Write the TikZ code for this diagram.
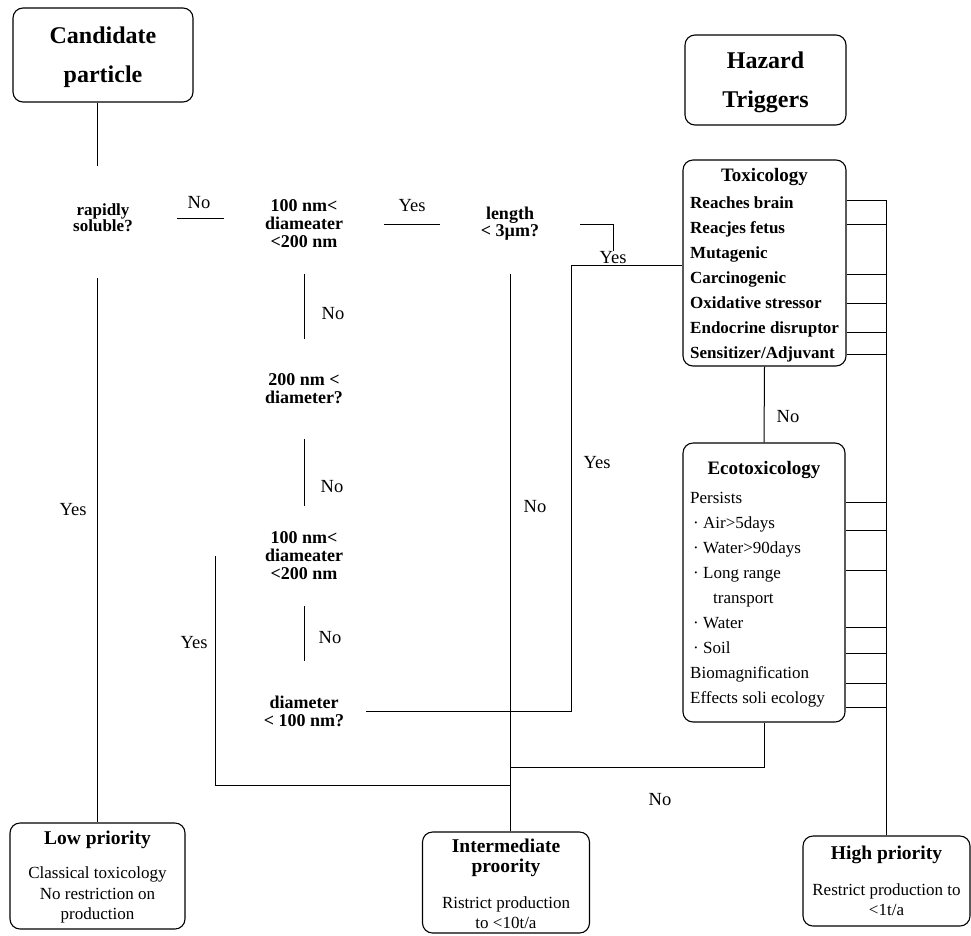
\documentclass[tikz,border=0pt]{standalone}
\usepackage{fontspec}
\setmainfont{Liberation Serif}
\usepackage{tikz}

\tikzstyle{hbox}    =[rectangle, draw=black, line width=1.1pt, rounded corners=10pt, inner sep=0pt]
\tikzstyle{bigtitle}=[font=\fontsize{24}{39}\selectfont\bfseries, align=center, text depth=0pt]
\tikzstyle{quest}   =[font=\fontsize{18}{18}\selectfont\bfseries, align=center,
                      minimum height=100pt, inner sep=0pt]
\tikzstyle{lab}     =[font=\fontsize{18.5}{20}\selectfont, inner sep=1pt]
\tikzstyle{boxtitle}=[font=\fontsize{19}{20}\selectfont\bfseries, inner sep=0pt]
\tikzstyle{toxitem} =[font=\fontsize{17}{18}\selectfont\bfseries, anchor=base west, inner sep=0pt]
\tikzstyle{ecoitem} =[font=\fontsize{17}{18}\selectfont, anchor=base west, inner sep=0pt]
\tikzstyle{prtitle} =[font=\fontsize{19.5}{20}\selectfont\bfseries, align=center, inner sep=0pt]
\tikzstyle{prbody}  =[font=\fontsize{17}{20.5}\selectfont, align=center, inner sep=0pt]
\tikzstyle{ln}      =[line width=1pt]

\begin{document}
\begin{tikzpicture}[x=1pt,y=-1pt]
  \useasboundingbox (0,0) rectangle (971,935);

  % ── boxes ──────────────────────────────────────────────────────────────────
  \node[hbox, bigtitle, minimum width=180pt, minimum height=94pt] (cand) at (103,55)   {Candidate\\particle};
  \node[hbox, bigtitle, minimum width=161pt, minimum height=90pt] (haz)  at (765.5,80) {Hazard\\Triggers};
  \node[hbox, minimum width=163pt, minimum height=206pt] (tox)  at (764.5,263)  {};
  \node[hbox, minimum width=162pt, minimum height=279pt] (eco)  at (764,582.5)  {};
  \node[hbox, minimum width=175pt, minimum height=106pt] (low)  at (97.5,876)   {};
  \node[hbox, minimum width=167pt, minimum height=101pt] (mid)  at (506,882.5)  {};
  \node[hbox, minimum width=167pt, minimum height=90pt]  (high) at (886.5,881)  {};

  % ── box contents ───────────────────────────────────────────────────────────
  \node[boxtitle] (toxt) at (764.5,177) {Toxicology};
  \foreach \txt [count=\i] in {Reaches brain, Reacjes fetus, Mutagenic, Carcinogenic,
                               Oxidative stressor, Endocrine disruptor, Sensitizer/Adjuvant}
    \node[toxitem] (t\i) at (690,183+25*\i) {\txt};

  \node[boxtitle] (ecot) at (764,470) {Ecotoxicology};
  \foreach \xx/\txt [count=\i] in {690/Persists,
                                   693/{· Air>5days},
                                   693/{· Water>90days},
                                   693/{· Long range},
                                   713/transport,
                                   693/{· Water},
                                   693/{· Soil},
                                   690/Biomagnification,
                                   690/Effects soli ecology}
    \node[ecoitem] (e\i) at (\xx,478+25*\i) {\txt};

  \node[prtitle] (lowt)  at (97.5,840)   {Low priority};
  \node[prbody]  (lowb)  at (97.5,895)   {Classical toxicology\\No restriction on\\production};
  \node[prtitle] (midt)  at (506,858)    {Intermediate\\proority};
  \node[prbody]  (midb)  at (506,912.5)  {Ristrict production\\to <10t/a};
  \node[prtitle] (hight) at (886.5,855)  {High priority};
  \node[prbody]  (highb) at (886.5,899.5) {Restrict production to\\<1t/a};

  % ── questions ──────────────────────────────────────────────────────────────
  \node[quest, minimum width=148pt, minimum height=104pt,
        font=\fontsize{17}{16}\selectfont\bfseries]
                                    (qsol) at (103,218) {rapidly\\soluble?};
  \node[quest, minimum width=160pt] (qd1)  at (304,224) {100 nm<\\diameater\\<200 nm};
  \node[quest, minimum width=140pt,
        font=\fontsize{18}{17}\selectfont\bfseries]
                                    (qlen) at (510,224) {length\\< 3µm?};
  \node[quest]                      (qd2)  at (304,389) {200 nm <\\diameter?};
  \node[quest, minimum width=176pt] (qd3)  at (304,556) {100 nm<\\diameater\\<200 nm};
  \node[quest, minimum width=124pt] (qd4)  at (304,711) {diameter\\< 100 nm?};

  % ── labels ─────────────────────────────────────────────────────────────────
  \node[lab] (nsol) at (199,203) {No};
  \node[lab] (yd1)  at (412,206) {Yes};
  \node[lab] (nd1)  at (333,314) {No};
  \node[lab] (ylen) at (613,258) {Yes};
  \node[lab] (nd2)  at (332,487) {No};
  \node[lab] (nd3)  at (330,638) {No};
  \node[lab] (yd3)  at (194,643) {Yes};
  \node[lab] (ysol) at (73,510)  {Yes};
  \node[lab] (nlen) at (535,507) {No};
  \node[lab] (yd4)  at (597,463) {Yes};
  \node[lab] (ntox) at (788,417) {No};
  \node[lab] (neco) at (660,800) {No};

  % ── junctions ──────────────────────────────────────────────────────────────
  \coordinate (jtox) at (571,265);
  \coordinate (jlow) at (510,785);
  \coordinate (jeco) at (510,767);
  \coordinate (bus)  at (886.5,200);

  % ── main flow ──────────────────────────────────────────────────────────────
  \draw[ln] (cand.south -| low.north) -- (qsol.north -| low.north);
  \draw[ln, shorten <=8pt] (qsol.south -| low.north) -- (low.north);
  \draw[ln] (qsol.east) -- (qsol.east -| qd1.west);
  \draw[ln] (qd1.east)  -- (qd1.east -| qlen.west);
  \draw[ln] (qd1.south) -- (qd2.north);
  \draw[ln] (qd2.south) -- (qd3.north);
  \draw[ln] (qd3.south) -- (qd4.north);
  \draw[ln] (qlen.south) -- (qlen.south |- mid.north);
  \draw[ln] (qlen.east) -| (ylen.north);
  \draw[ln] (qd3.west) |- (jlow);
  \draw[ln] (qd4.east) -| (jtox) -- (jtox -| tox.west);
  \draw[ln] (tox.south) -- (eco.north);
  \draw[ln] (eco.south) |- (jeco);

  % ── hazard bus to high priority ────────────────────────────────────────────
  \draw[ln] (bus) -- (high.north);
  \foreach \yy in {200,224,274,303,332,354}
    \draw[ln] (tox.east |- 0,\yy) -- (bus |- 0,\yy);
  \foreach \yy in {502,530,570,627,653,683,707}
    \draw[ln] (eco.east |- 0,\yy) -- (bus |- 0,\yy);

\end{tikzpicture}
\end{document}
